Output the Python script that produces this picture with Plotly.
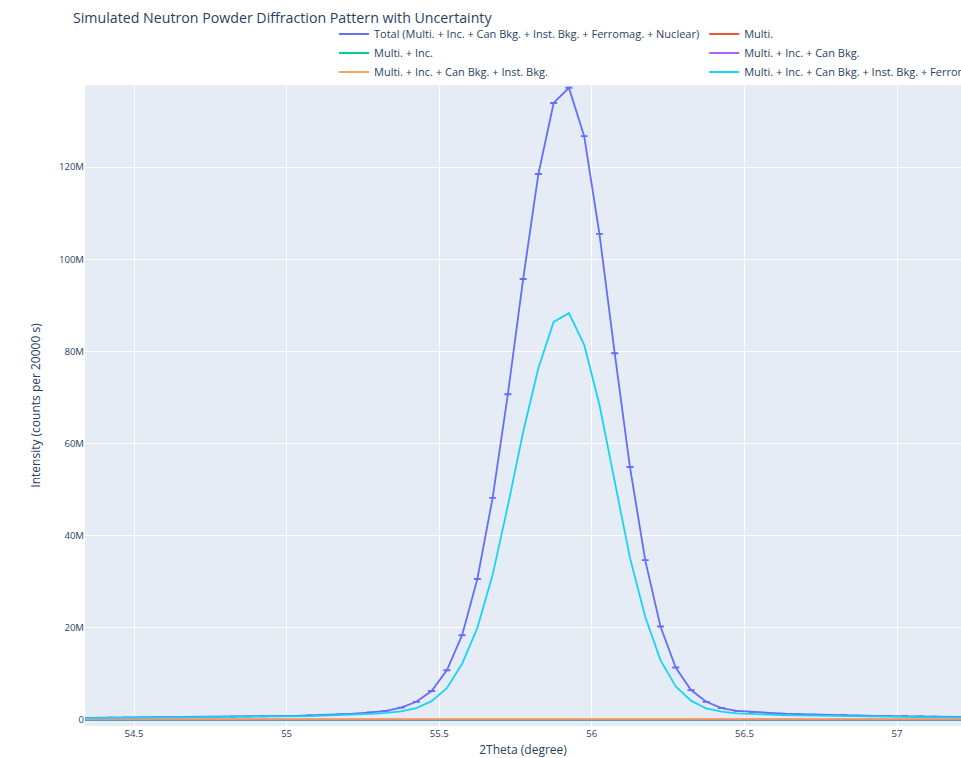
import numpy as np
import plotly.graph_objects as go

# 2Theta positions (degree), 0.05 degree steps
two_theta = [
    54.325, 54.375, 54.425, 54.475, 54.525, 54.575, 54.625, 54.675, 54.725, 54.775,
    54.825, 54.875, 54.925, 54.975, 55.025, 55.075, 55.125, 55.175, 55.225, 55.275,
    55.325, 55.375, 55.425, 55.475, 55.525, 55.575, 55.625, 55.675, 55.725, 55.775,
    55.825, 55.875, 55.925, 55.975, 56.025, 56.075, 56.125, 56.175, 56.225, 56.275,
    56.325, 56.375, 56.425, 56.475, 56.525, 56.575, 56.625, 56.675, 56.725, 56.775,
    56.825, 56.875, 56.925, 56.975, 57.025, 57.075, 57.125, 57.175, 57.225, 57.275,
]

# Intensities in millions of counts per 20000 s
total_m = [
    0.45, 0.47, 0.49, 0.51, 0.53, 0.55, 0.58, 0.61, 0.64, 0.67,
    0.71, 0.75, 0.80, 0.85, 0.91, 0.99, 1.09, 1.22, 1.40, 1.65,
    2.00, 2.70, 3.95, 6.30, 10.8, 18.4, 30.6, 48.2, 70.7, 95.7,
    118.5, 133.9, 137.2, 126.7, 105.5, 79.6, 54.9, 34.7, 20.3, 11.4,
    6.50, 3.95, 2.60, 2.00, 1.75, 1.55, 1.40, 1.28, 1.18, 1.10,
    1.03, 0.97, 0.91, 0.86, 0.81, 0.77, 0.73, 0.69, 0.66, 0.63,
]

multi_m = [
    0.014, 0.014, 0.014, 0.014, 0.014, 0.014, 0.014, 0.014, 0.014, 0.014,
    0.014, 0.014, 0.014, 0.014, 0.014, 0.014, 0.013, 0.013, 0.013, 0.013,
    0.013, 0.013, 0.013, 0.013, 0.013, 0.013, 0.013, 0.013, 0.013, 0.013,
    0.013, 0.013, 0.013, 0.013, 0.013, 0.013, 0.013, 0.013, 0.013, 0.013,
    0.013, 0.013, 0.013, 0.013, 0.012, 0.012, 0.012, 0.012, 0.012, 0.012,
    0.012, 0.012, 0.012, 0.012, 0.012, 0.012, 0.012, 0.012, 0.012, 0.012,
]

multi_inc_m = [
    0.035, 0.035, 0.035, 0.035, 0.035, 0.035, 0.035, 0.035, 0.035, 0.035,
    0.035, 0.035, 0.034, 0.034, 0.034, 0.034, 0.034, 0.034, 0.034, 0.034,
    0.034, 0.034, 0.034, 0.034, 0.034, 0.034, 0.034, 0.034, 0.034, 0.034,
    0.034, 0.034, 0.034, 0.034, 0.034, 0.034, 0.034, 0.034, 0.034, 0.034,
    0.034, 0.034, 0.034, 0.034, 0.034, 0.034, 0.033, 0.033, 0.033, 0.033,
    0.033, 0.033, 0.033, 0.033, 0.033, 0.033, 0.033, 0.033, 0.033, 0.033,
]

multi_inc_can_m = [
    0.135, 0.135, 0.135, 0.134, 0.134, 0.134, 0.134, 0.134, 0.133, 0.133,
    0.133, 0.133, 0.133, 0.132, 0.132, 0.132, 0.132, 0.132, 0.131, 0.131,
    0.131, 0.131, 0.131, 0.131, 0.131, 0.131, 0.131, 0.131, 0.131, 0.131,
    0.131, 0.131, 0.131, 0.130, 0.130, 0.130, 0.130, 0.130, 0.130, 0.130,
    0.130, 0.130, 0.130, 0.129, 0.129, 0.129, 0.129, 0.129, 0.129, 0.129,
    0.129, 0.129, 0.129, 0.128, 0.128, 0.128, 0.128, 0.128, 0.128, 0.128,
]

multi_inc_can_inst_m = [
    0.245, 0.245, 0.244, 0.244, 0.244, 0.243, 0.243, 0.243, 0.242, 0.242,
    0.242, 0.241, 0.241, 0.241, 0.240, 0.240, 0.240, 0.239, 0.239, 0.239,
    0.238, 0.238, 0.238, 0.238, 0.237, 0.237, 0.237, 0.237, 0.237, 0.237,
    0.237, 0.237, 0.237, 0.237, 0.236, 0.236, 0.236, 0.236, 0.236, 0.236,
    0.236, 0.235, 0.235, 0.235, 0.235, 0.235, 0.234, 0.234, 0.234, 0.234,
    0.234, 0.233, 0.233, 0.233, 0.233, 0.233, 0.232, 0.232, 0.232, 0.232,
]

multi_inc_can_inst_ferro_m = [
    0.40, 0.42, 0.44, 0.46, 0.48, 0.50, 0.52, 0.54, 0.57, 0.60,
    0.63, 0.66, 0.70, 0.74, 0.79, 0.85, 0.93, 1.03, 1.16, 1.33,
    1.55, 1.85, 2.60, 4.10, 6.90, 12.2, 20.0, 31.5, 46.5, 62.5,
    76.4, 86.4, 88.3, 81.4, 68.4, 52.0, 35.2, 22.4, 13.0, 7.30,
    4.20, 2.50, 1.80, 1.45, 1.28, 1.17, 1.08, 1.00, 0.93, 0.87,
    0.82, 0.77, 0.73, 0.69, 0.66, 0.63, 0.60, 0.57, 0.55, 0.53,
]

series_names = [
    "Total (Multi. + Inc. + Can Bkg. + Inst. Bkg. + Ferromag. + Nuclear)",
    "Multi.",
    "Multi. + Inc.",
    "Multi. + Inc. + Can Bkg.",
    "Multi. + Inc. + Can Bkg. + Inst. Bkg.",
    "Multi. + Inc. + Can Bkg. + Inst. Bkg. + Ferromag.",
]
series_colors = ["#636efa", "#EF553B", "#00cc96", "#ab63fa", "#FFA15A", "#19d3f3"]

MILLION = 1e6
x = np.array(two_theta)
total = np.array(total_m) * MILLION
# counting statistics: Poisson uncertainty on the total counts
total_err = np.sqrt(total)

components = [
    multi_m,
    multi_inc_m,
    multi_inc_can_m,
    multi_inc_can_inst_m,
    multi_inc_can_inst_ferro_m,
]

fig = go.Figure()
fig.add_trace(go.Scatter(
    x=x, y=total, mode="lines", name=series_names[0],
    line=dict(color=series_colors[0], width=1.8),
    error_y=dict(type="data", array=total_err, visible=True,
                 thickness=1.8, width=3.5, color=series_colors[0]),
))
for name, color, vals in zip(series_names[1:], series_colors[1:], components):
    fig.add_trace(go.Scatter(
        x=x, y=np.array(vals) * MILLION, mode="lines", name=name,
        line=dict(color=color, width=1.8),
    ))

W, H = 961, 758
fig.update_layout(
    width=W, height=H,
    template="plotly",
    font=dict(family="Open Sans", size=9.6, color="#2a3f5f"),
    margin=dict(l=85, r=0, t=85, b=32, autoexpand=False),
    title=dict(
        text="Simulated Neutron Powder Diffraction Pattern with Uncertainty",
        x=73 / W, xanchor="left", xref="container",
        y=1 - 18.5 / H, yanchor="middle", yref="container",
        font=dict(size=14.2),
    ),
    legend=dict(
        orientation="h",
        x=(334 - 85) / (W - 85), xanchor="left",
        y=1 + 65.5 / 641, yanchor="top",
        font=dict(size=11),
        bgcolor="rgba(0,0,0,0)",
    ),
    showlegend=True,
)
fig.update_xaxes(
    title=dict(text="2Theta (degree)", standoff=16),
    range=[54.3394, 57.2097], dtick=0.5, automargin=False,
)
fig.update_yaxes(
    title=dict(text="Intensity (counts per 20000 s)", standoff=15),
    range=[-1.3e6, 137.8e6], dtick=20e6, automargin=False,
)

fig.write_html("out.html")
